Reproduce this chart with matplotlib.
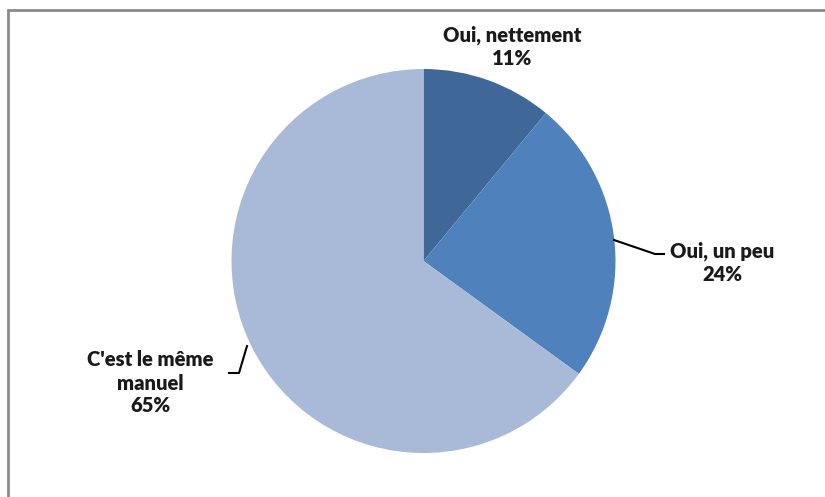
import matplotlib.pyplot as plt
from matplotlib.patches import Rectangle

labels = ["Oui, nettement", "Oui, un peu", "C'est le même\nmanuel"]
values = [11, 24, 65]
colors = ["#3F6797", "#4F81BD", "#A9B9D8"]

plt.rcParams['font.family'] = ['Lato', 'DejaVu Sans']

fig = plt.figure(figsize=(8.25, 4.97), dpi=100)
ax = fig.add_axes([0, 0, 1, 1])

# chart frame
ax.add_patch(Rectangle((7.5, -5), 830, 492, fill=False, edgecolor="#8a8a8a", lw=2))

ax.pie(values, colors=colors, startangle=90, counterclock=False,
       center=(423.5, 236), radius=192, frame=True,
       wedgeprops=dict(linewidth=0))
ax.set_xlim(0, 825)
ax.set_ylim(0, 497)
ax.set_aspect('auto')
ax.axis('off')

txt = dict(ha='center', va='center', fontsize=14.5, fontweight='heavy', color='#1a1a1a', linespacing=1.25)
ax.text(512, 497 - 47, f"{labels[0]}\n{values[0]}%", **txt)
ax.text(722, 497 - 263, f"{labels[1]}\n{values[1]}%", **txt)
ax.text(150, 497 - 383, f"{labels[2]}\n{values[2]}%", **txt)

# leader lines
ax.plot([614, 655, 664], [497 - 240, 497 - 254, 497 - 254], color='black', lw=1.5)
ax.plot([247, 239, 229], [497 - 346, 497 - 373, 497 - 373], color='black', lw=1.5)

fig.savefig("out.png", dpi=100)
